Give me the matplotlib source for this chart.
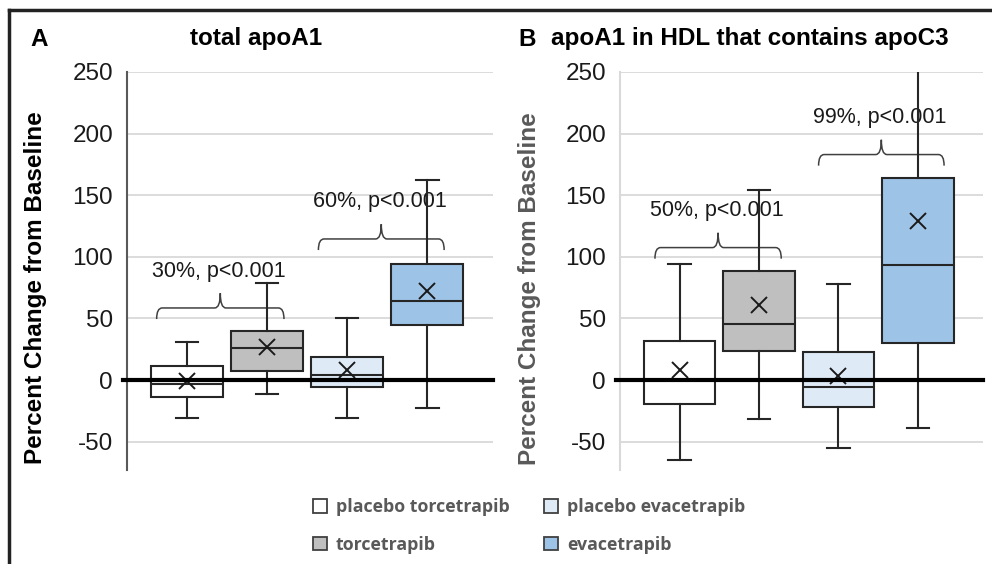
import matplotlib
matplotlib.use("Agg")
import matplotlib.pyplot as plt
from matplotlib.patches import Patch
from matplotlib.path import Path
from matplotlib.patches import PathPatch

# ---------------- data ----------------
groups = ["placebo torcetrapib", "torcetrapib", "placebo evacetrapib", "evacetrapib"]
colors = ["#FFFFFF", "#BFBFBF", "#DEEBF7", "#9DC3E6"]

# Panel A: total apoA1
a_whislo = [-31, -11, -31, -23]
a_q1 = [-14, 7.5, -6, 44.5]
a_med = [-3, 26, 4, 64]
a_q3 = [11, 39.5, 19, 94]
a_whishi = [31, 79, 50, 162]
a_mean = [-1, 27, 8, 72]

# Panel B: apoA1 in HDL that contains apoC3
b_whislo = [-65, -32, -55, -39]
b_q1 = [-19.5, 23.5, -22, 30]
b_med = [0, 45.5, -5.5, 93]
b_q3 = [31.5, 88.5, 22.5, 164]
b_whishi = [94, 154, 78, 275]
b_mean = [8, 61, 3, 129]

# Bracket annotations: (x_left, x_right, y_level, label)
a_brackets = [(0.62, 2.21, 58.5, "30%, p<0.001"), (2.64, 4.21, 114.5, "60%, p<0.001")]
b_brackets = [(0.69, 2.28, 107.5, "50%, p<0.001"), (2.75, 4.33, 183, "99%, p<0.001")]

yticks = [-50, 0, 50, 100, 150, 200, 250]

plt.rcParams['font.family'] = ['Liberation Sans', 'DejaVu Sans']
plt.rcParams['axes.unicode_minus'] = False

fig = plt.figure(figsize=(9.92, 5.64), dpi=100)

bottom = 1 - 470 / 564
top = 1 - 72 / 564
axA = fig.add_axes([127 / 992, bottom, (493 - 127) / 992, top - bottom])
axB = fig.add_axes([620 / 992, bottom, (983 - 620) / 992, top - bottom])


def brace(ax, x0, x1, y, label):
    drop = 9.0
    rise = 12.0
    dx = 0.07
    xm = (x0 + x1) / 2
    v = [(x0, y - drop), (x0, y), (x0 + dx, y),
         (xm - dx, y), (xm, y), (xm, y + rise),
         (xm, y + rise), (xm, y), (xm + dx, y),
         (x1 - dx, y), (x1, y), (x1, y - drop)]
    c = [Path.MOVETO, Path.CURVE3, Path.CURVE3,
         Path.LINETO, Path.CURVE3, Path.CURVE3,
         Path.MOVETO, Path.CURVE3, Path.CURVE3,
         Path.LINETO, Path.CURVE3, Path.CURVE3]
    ax.add_patch(PathPatch(Path(v, c), fill=False, edgecolor="#404040", lw=1.1, zorder=1))
    ax.text(xm - 0.02, y + rise + 18, label, ha="center", va="center", fontsize=15.5,
            color="#1a1a1a", zorder=1)


def panel(ax, whislo, q1, med, q3, whishi, mean, brackets, spine_color, label_color):
    stats = []
    for i in range(len(groups)):
        stats.append(dict(whislo=whislo[i], q1=q1[i], med=med[i], q3=q3[i],
                          whishi=whishi[i], mean=mean[i], label=""))
    bp = ax.bxp(stats, positions=[1, 2, 3, 4], widths=0.9, patch_artist=True,
                showmeans=True, showfliers=False,
                boxprops=dict(edgecolor="#262626", linewidth=1.5),
                medianprops=dict(color="#262626", linewidth=1.5),
                whiskerprops=dict(color="#262626", linewidth=1.5),
                capprops=dict(color="#262626", linewidth=1.5),
                meanprops=dict(marker="x", markeredgecolor="#1a1a1a", markersize=11, markeredgewidth=1.4),
                capwidths=0.28, zorder=3)
    for patch, col in zip(bp["boxes"], colors):
        patch.set_facecolor(col)
    ax.set_ylim(-73, 250)
    ax.set_xlim(0.25, 4.82)
    ax.set_yticks(yticks)
    ax.set_xticks([])
    ax.grid(axis="y", color="#D9D9D9", lw=1.3, zorder=0)
    ax.set_axisbelow(True)
    for s in ["top", "right", "bottom"]:
        ax.spines[s].set_visible(False)
    ax.spines["left"].set_color(spine_color)
    ax.spines["left"].set_linewidth(1.5)
    ax.tick_params(axis="y", length=0, labelsize=17.5, pad=10, labelcolor="#1a1a1a")
    ax.axhline(0, color="black", lw=3, zorder=4, xmin=-0.01, clip_on=False)
    ax.set_ylabel("Percent Change from Baseline", fontsize=17.5, fontweight="bold",
                  color=label_color)
    for x0, x1, y, lab in brackets:
        brace(ax, x0, x1, y, lab)


panel(axA, a_whislo, a_q1, a_med, a_q3, a_whishi, a_mean, a_brackets, "#595959", "black")
panel(axB, b_whislo, b_q1, b_med, b_q3, b_whishi, b_mean, b_brackets, "#D9D9D9", "#595959")
axA.yaxis.set_label_coords((47 - 127) / 366, 0.458)
axB.yaxis.set_label_coords((541 - 620) / 363, 0.455)

# Titles
fig.text(39 / 992, 1 - 40 / 564, "A", fontsize=17.5, fontweight="bold", ha="center", va="center")
fig.text(256 / 992, 1 - 38 / 564, "total apoA1", fontsize=17.5, fontweight="bold", ha="center", va="center")
fig.text(527 / 992, 1 - 40 / 564, "B", fontsize=17.5, fontweight="bold", ha="center", va="center")
fig.text(750 / 992, 1 - 38 / 564, "apoA1 in HDL that contains apoC3", fontsize=17.5, fontweight="bold",
         ha="center", va="center")

# Legend
handles = [Patch(facecolor=c, edgecolor="#404040", linewidth=1.3) for c in colors]
leg = fig.legend(handles, groups, ncol=2, loc="center", bbox_to_anchor=(529 / 992, 1 - 526 / 564),
                 frameon=False, prop=dict(family=["Open Sans", "DejaVu Sans"], weight="bold", size=12.8),
                 labelcolor="#595959", handlelength=0.8, handleheight=0.8, handletextpad=0.5,
                 columnspacing=1.9, labelspacing=1.1)

# Figure border (top and left)
fig.add_artist(plt.Line2D([9 / 992, 1], [1 - 10 / 564, 1 - 10 / 564], color="#222222", lw=2.5))
fig.add_artist(plt.Line2D([9 / 992, 9 / 992], [0, 1 - 10 / 564], color="#222222", lw=2.5))

fig.savefig("out.png", dpi=100)
